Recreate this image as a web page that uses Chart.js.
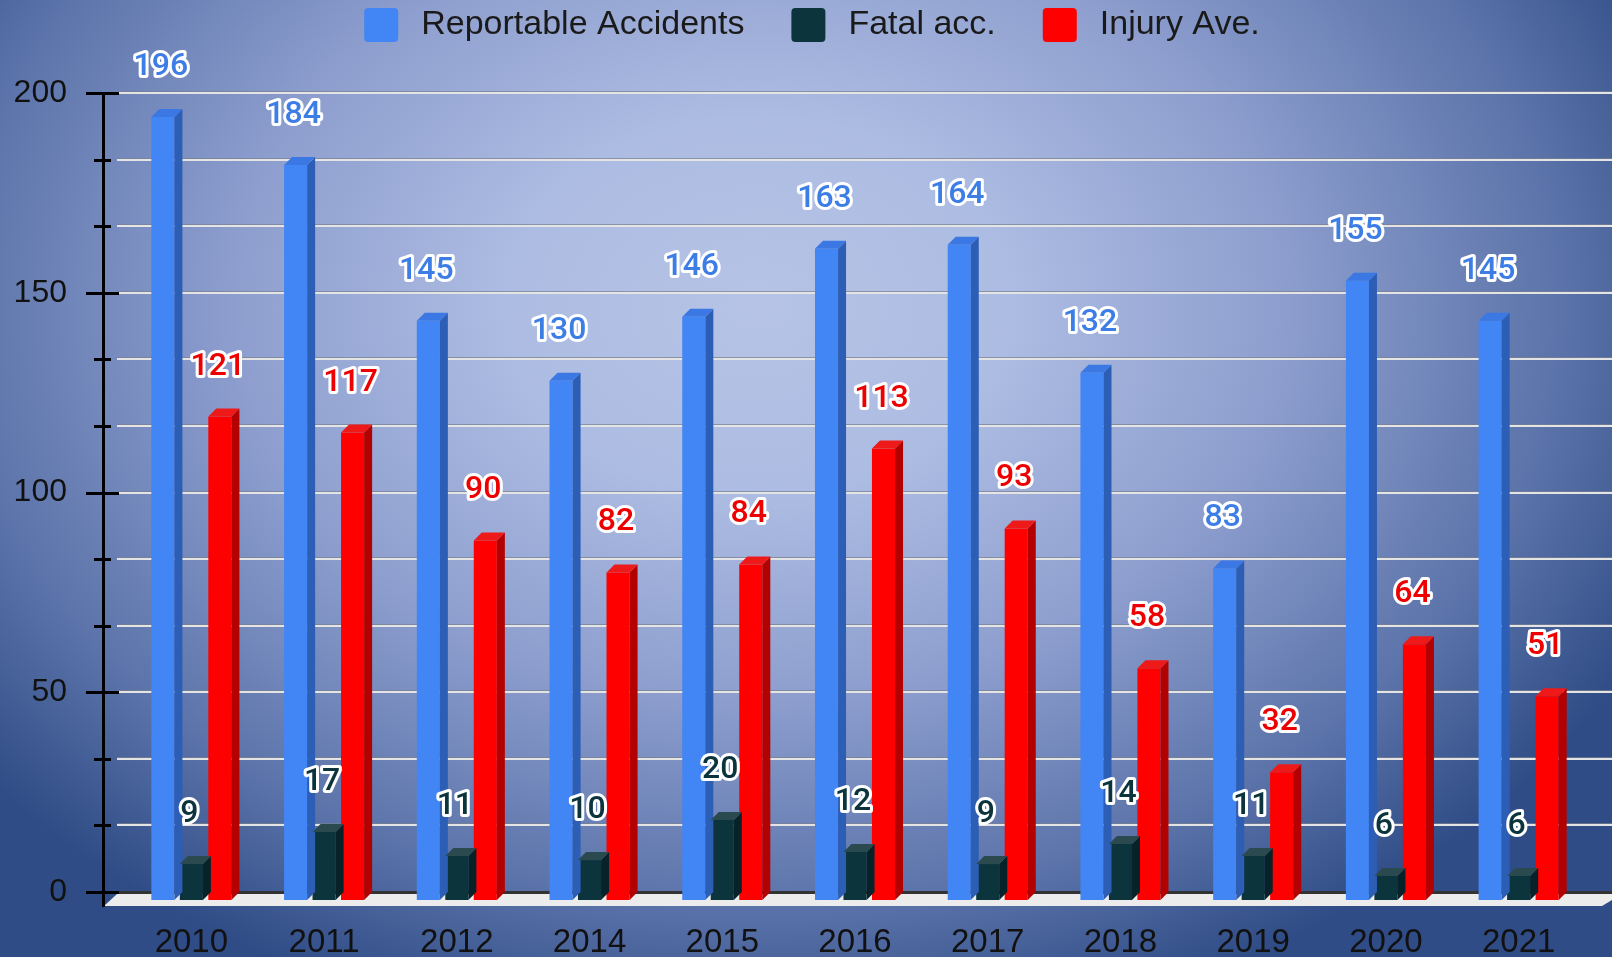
<!DOCTYPE html>
<html>
<head>
<meta charset="utf-8">
<title>Accidents by year</title>
<script src="https://cdn.jsdelivr.net/npm/chart.js@4.4.1/dist/chart.umd.min.js"></script>
<style>
  html, body { margin: 0; padding: 0; }
  #wrap {
    width: 1612px;
    height: 957px;
    background: radial-gradient(ellipse 62% 78% at 47% 32%, #b6c3e6 0%, #adbce2 25%, #8e9fcf 52%, #5c74aa 80%, #2f4c86 100%);
  }
</style>
</head>
<body>
<div id="wrap"><canvas id="myChart" width="1612" height="957"></canvas></div>
<script>
'use strict';

let years = ['2010', '2011', '2012', '2014', '2015', '2016', '2017', '2018', '2019', '2020', '2021'];
let reportable = [196, 184, 145, 130, 146, 163, 164, 132, 83, 155, 145];
let fatal = [9, 17, 11, 10, 20, 12, 9, 14, 11, 6, 6];
let injury = [121, 117, 90, 82, 84, 113, 93, 58, 32, 64, 51];
let seriesNames = ['Reportable Accidents', 'Fatal acc.', 'Injury Ave.'];

let frontColors = ['#4285f4', '#0c343d', '#ff0000'];
let sideColors = ['#2d5eb5', '#072228', '#b30000'];
let topColors = ['#3b78e3', '#2b4a50', '#ee1a1a'];
let labelColors = ['#3d7de6', '#0c343d', '#ee0000'];

let depth = 8;       // 3d offset of the back plane
let axisGap = 22;    // y axis line sits this far left of the plot
let ctx = document.getElementById('myChart');

// grid, axis line, tick marks and floor, drawn on the back plane
let backPlane = {
  id: 'backPlane',
  beforeDatasetsDraw(chart) {
    let c = chart.ctx;
    let yScale = chart.scales.y;
    let area = chart.chartArea;
    let axisX = area.left - axisGap;
    let step = 50 / 3;
    c.save();
    for (let i = 1; i <= 12; i++) {
      let y = Math.round(yScale.getPixelForValue(i * step) - depth);
      c.fillStyle = 'rgba(120,128,145,0.7)';
      c.fillRect(axisX + 14, y - 2, chart.width, 1);
      c.fillStyle = '#e4e4e4';
      c.fillRect(axisX + 14, y - 1, chart.width, 2);
    }
    let y0 = Math.round(yScale.getPixelForValue(0) - depth);
    // floor
    c.fillStyle = '#ececec';
    c.beginPath();
    c.moveTo(axisX + 14, y0 + 2);
    c.lineTo(chart.width + 10, y0 + 2);
    c.lineTo(chart.width - 10, y0 + 14);
    c.lineTo(axisX + 1, y0 + 14);
    c.closePath();
    c.fill();
    c.fillStyle = '#333';
    c.fillRect(axisX + 14, y0 - 1, chart.width, 3);
    // axis line and tick marks
    c.fillStyle = '#000';
    let yTop = yScale.getPixelForValue(200) - depth;
    c.fillRect(axisX - 1, yTop, 3, y0 + 15 - yTop);
    for (let i = 0; i <= 12; i++) {
      let y = Math.round(yScale.getPixelForValue(i * step) - depth);
      if (i % 3 === 0) {
        c.fillRect(axisX - 17, y - 1, 33, 3);
      } else {
        c.fillRect(axisX - 9, y - 1, 17, 3);
      }
    }
    c.restore();
  }
};

// side and top faces of the bars, then the value labels
let bars3d = {
  id: 'bars3d',
  afterDatasetsDraw(chart) {
    let c = chart.ctx;
    c.save();
    chart.data.datasets.forEach((ds, di) => {
      let meta = chart.getDatasetMeta(di);
      meta.data.forEach(bar => {
        let xl = bar.x - bar.width / 2;
        let xr = bar.x + bar.width / 2;
        let yt = bar.y;
        let yb = bar.base;
        c.fillStyle = sideColors[di];
        c.beginPath();
        c.moveTo(xr, yt);
        c.lineTo(xr + depth, yt - depth);
        c.lineTo(xr + depth, yb - depth);
        c.lineTo(xr, yb);
        c.closePath();
        c.fill();
        c.fillStyle = topColors[di];
        c.beginPath();
        c.moveTo(xl, yt);
        c.lineTo(xl + depth, yt - depth);
        c.lineTo(xr + depth, yt - depth);
        c.lineTo(xr, yt);
        c.closePath();
        c.fill();
      });
    });

    c.font = '500 32px Roboto';
    c.textAlign = 'center';
    c.textBaseline = 'middle';
    c.lineJoin = 'round';
    chart.data.datasets.forEach((ds, di) => {
      let meta = chart.getDatasetMeta(di);
      meta.data.forEach((bar, i) => {
        let txt = String(ds.data[i]);
        let x = bar.x - 2;
        let y = bar.y - 50;
        c.strokeStyle = '#ffffff';
        c.lineWidth = 6;
        c.strokeText(txt, x, y);
        c.fillStyle = labelColors[di];
        c.fillText(txt, x, y);
      });
    });
    c.restore();
  }
};

// legend row across the top
let topLegend = {
  id: 'topLegend',
  afterDraw(chart) {
    let c = chart.ctx;
    c.save();
    c.font = '34px "Liberation Sans", Arial, sans-serif';
    c.textBaseline = 'middle';
    let box = 34;
    let boxGap = 23;
    let itemGap = 47;
    let widths = seriesNames.map(n => c.measureText(n).width);
    let total = 0;
    widths.forEach(w => { total += box + boxGap + w; });
    total += itemGap * (seriesNames.length - 1);
    let x = chart.width / 2 + 6 - total / 2;
    let yMid = 25;
    seriesNames.forEach((name, i) => {
      c.fillStyle = frontColors[i];
      c.beginPath();
      c.roundRect(x, yMid - box / 2, box, box, 4);
      c.fill();
      c.fillStyle = '#1a1a1a';
      c.fillText(name, x + box + boxGap, yMid);
      x += box + boxGap + widths[i] + itemGap;
    });
    c.restore();
  }
};

new Chart(ctx, {
  type: 'bar',
  data: {
    labels: years,
    datasets: [
      { label: seriesNames[0], data: reportable, backgroundColor: frontColors[0] },
      { label: seriesNames[1], data: fatal, backgroundColor: frontColors[1] },
      { label: seriesNames[2], data: injury, backgroundColor: frontColors[2] }
    ]
  },
  options: {
    responsive: false,
    animation: false,
    devicePixelRatio: 1,
    layout: { padding: { top: 101, right: 27, left: 0, bottom: 0 } },
    datasets: {
      bar: { categoryPercentage: 0.644, barPercentage: 0.81 }
    },
    plugins: {
      legend: { display: false },
      tooltip: { enabled: false }
    },
    scales: {
      x: {
        grid: { display: false, drawTicks: false },
        border: { display: false },
        ticks: {
          color: '#111',
          font: { family: '"Liberation Sans", Arial, sans-serif', size: 33 },
          padding: 23,
          maxRotation: 0,
          autoSkip: false
        },
        afterFit(scale) { scale.height = 57; }
      },
      y: {
        min: 0,
        max: 200,
        grid: { display: false, drawTicks: false },
        border: { display: false },
        ticks: {
          stepSize: 50,
          color: '#111',
          font: { family: '"Liberation Sans", Arial, sans-serif', size: 32 },
          padding: 58,
          labelOffset: -depth
        },
        afterFit(scale) {
          scale.width = 125;
          // tick padding would otherwise push the plot up from the bottom
          scale.paddingTop = 0;
          scale.paddingBottom = 0;
        }
      }
    }
  },
  plugins: [backPlane, bars3d, topLegend]
});
</script>
</body>
</html>
